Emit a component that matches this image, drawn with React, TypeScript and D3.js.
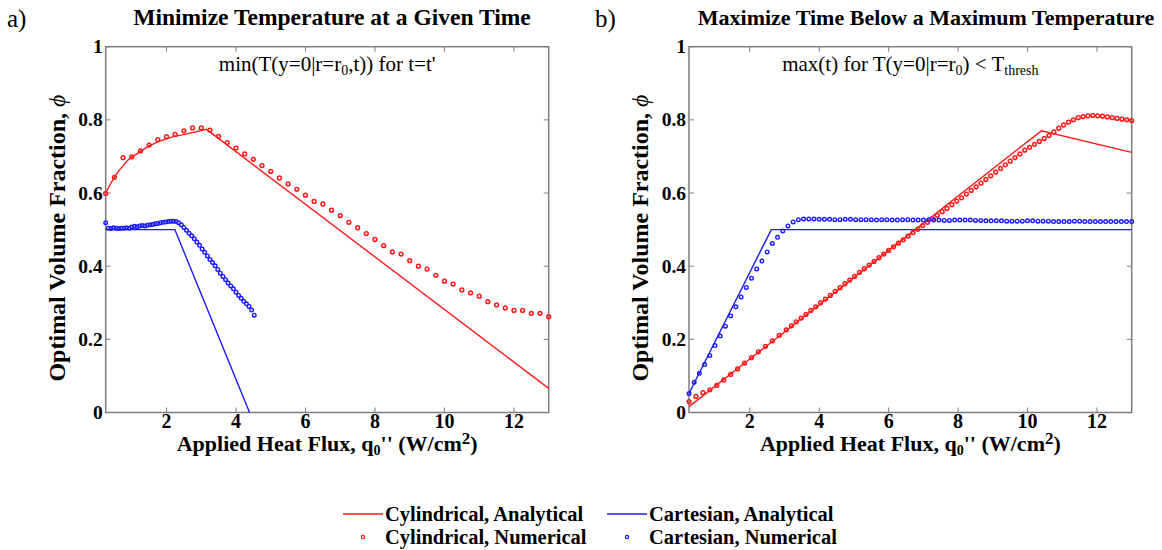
import React from "react";
import * as d3 from "d3";

// ---------- DATA ----------
const xTicks = [2, 4, 6, 8, 10, 12];
const yTicks = [0, 0.2, 0.4, 0.6, 0.8, 1];
const xDomain: [number, number] = [0.25, 13];

// Panel a) Cylindrical analytical
const aRedLineX = [0.25, 0.37, 0.5, 0.62, 0.75, 0.87, 1.0, 1.25, 1.5, 1.8, 2.2, 2.65, 3.15, 13];
const aRedLineY = [0.6, 0.622, 0.643, 0.66, 0.675, 0.688, 0.698, 0.714, 0.729, 0.742, 0.754, 0.763, 0.774, 0.066];
// Panel a) Cartesian analytical
const aBlueLineX = [0.25, 2.24, 4.39];
const aBlueLineY = [0.5, 0.5, 0.0];
// Panel a) Cylindrical numerical
const aRedDotX = [0.25, 0.5, 0.75, 1.0, 1.25, 1.5, 1.75, 2.0, 2.25, 2.5, 2.75, 3.0, 3.25, 3.5, 3.75, 4.0, 4.25, 4.5, 4.75, 5.0, 5.25, 5.5, 5.75, 6.0, 6.25, 6.5, 6.75, 7.0, 7.25, 7.5, 7.75, 8.0, 8.25, 8.5, 8.75, 9.0, 9.25, 9.5, 9.75, 10.0, 10.25, 10.5, 10.75, 11.0, 11.25, 11.5, 11.75, 12.0, 12.25, 12.5, 12.75, 13.0];
const aRedDotY = [0.599, 0.643, 0.697, 0.699, 0.715, 0.731, 0.746, 0.754, 0.76, 0.77, 0.778, 0.778, 0.772, 0.755, 0.738, 0.723, 0.707, 0.692, 0.675, 0.659, 0.641, 0.625, 0.61, 0.594, 0.577, 0.57, 0.553, 0.538, 0.52, 0.505, 0.489, 0.473, 0.456, 0.439, 0.433, 0.415, 0.4, 0.392, 0.375, 0.359, 0.351, 0.335, 0.327, 0.318, 0.303, 0.294, 0.286, 0.279, 0.279, 0.271, 0.271, 0.262];
// Panel a) Cartesian numerical
const aBlueDotX = [0.25, 0.325, 0.4, 0.475, 0.55, 0.625, 0.7, 0.775, 0.85, 0.925, 1.0, 1.075, 1.15, 1.225, 1.3, 1.375, 1.45, 1.525, 1.6, 1.675, 1.75, 1.825, 1.9, 1.975, 2.05, 2.125, 2.2, 2.275, 2.35, 2.425, 2.5, 2.575, 2.65, 2.725, 2.8, 2.875, 2.95, 3.025, 3.1, 3.175, 3.25, 3.325, 3.4, 3.475, 3.55, 3.625, 3.7, 3.775, 3.85, 3.925, 4.0, 4.075, 4.15, 4.225, 4.3, 4.375, 4.45, 4.525];
const aBlueDotY = [0.519, 0.504, 0.503, 0.505, 0.504, 0.503, 0.504, 0.504, 0.505, 0.504, 0.507, 0.509, 0.508, 0.51, 0.511, 0.51, 0.512, 0.513, 0.514, 0.516, 0.517, 0.519, 0.52, 0.521, 0.522, 0.523, 0.523, 0.522, 0.519, 0.513, 0.506, 0.498, 0.49, 0.483, 0.475, 0.466, 0.457, 0.447, 0.438, 0.428, 0.418, 0.41, 0.401, 0.391, 0.381, 0.372, 0.363, 0.354, 0.346, 0.338, 0.329, 0.32, 0.312, 0.304, 0.297, 0.29, 0.28, 0.266];

// Panel b) analytical
const bRedLineX = [0.25, 10.4, 13];
const bRedLineY = [0.016, 0.77, 0.711];
const bBlueLineX = [0.25, 2.62, 13];
const bBlueLineY = [0.052, 0.5, 0.5];
// Panel b) Cylindrical numerical
const bRedDotX = [0.25, 0.45, 0.65, 0.85, 1.05, 1.25, 1.45, 1.65, 1.85, 2.05, 2.25, 2.45, 2.65, 2.85, 3.05,
  3.2, 3.34, 3.48, 3.62, 3.76, 3.9, 4.04, 4.18, 4.32, 4.46, 4.6, 4.74, 4.88, 5.02, 5.16, 5.3, 5.44, 5.58, 5.72, 5.86,
  6.0, 6.14, 6.28, 6.42, 6.56, 6.7, 6.84, 6.98, 7.12, 7.26, 7.4, 7.54, 7.68, 7.82, 7.96, 8.1, 8.24, 8.38, 8.52, 8.66,
  8.8, 8.94, 9.08, 9.22, 9.36, 9.5, 9.64, 9.78, 9.92, 10.06, 10.2, 10.34, 10.48, 10.62, 10.76, 10.9, 11.04, 11.18,
  11.32, 11.46, 11.6, 11.74, 11.88, 12.02, 12.16, 12.3, 12.44, 12.58, 12.72, 12.86, 13.0];
const bRedDotY = [0.03, 0.044, 0.054, 0.062, 0.074, 0.089, 0.104, 0.119, 0.135, 0.15, 0.166, 0.181, 0.196, 0.211, 0.226,
  0.237, 0.248, 0.258, 0.268, 0.279, 0.289, 0.3, 0.31, 0.32, 0.331, 0.341, 0.352, 0.362, 0.372, 0.383, 0.393, 0.403, 0.413, 0.423, 0.433,
  0.443, 0.453, 0.463, 0.472, 0.482, 0.492, 0.501, 0.511, 0.52, 0.53, 0.539, 0.549, 0.558, 0.568, 0.578, 0.587, 0.597, 0.607, 0.617, 0.627,
  0.637, 0.647, 0.657, 0.667, 0.677, 0.687, 0.697, 0.707, 0.717, 0.725, 0.733, 0.741, 0.749, 0.757, 0.767, 0.777, 0.786, 0.794,
  0.8, 0.806, 0.809, 0.811, 0.812, 0.811, 0.81, 0.808, 0.806, 0.804, 0.802, 0.8, 0.798];
// Panel b) Cartesian numerical
const bBlueDotX = [0.25, 0.4, 0.55, 0.7, 0.85, 1.0, 1.15, 1.3, 1.45, 1.6, 1.75, 1.9, 2.05, 2.2, 2.35, 2.5, 2.65, 2.8, 2.95, 3.1, 3.25, 3.4, 3.55,
  3.7, 3.85, 4.0, 4.15, 4.3, 4.45, 4.6, 4.75, 4.9, 5.05, 5.2, 5.35, 5.5, 5.65, 5.8, 5.95, 6.1, 6.25, 6.4, 6.55,
  6.7, 6.85, 7.0, 7.15, 7.3, 7.45, 7.6, 7.75, 7.9, 8.05, 8.2, 8.35, 8.5, 8.65, 8.8, 8.95, 9.1, 9.25, 9.4, 9.55,
  9.7, 9.85, 10.0, 10.15, 10.3, 10.45, 10.6, 10.75, 10.9, 11.05, 11.2, 11.35, 11.5, 11.65, 11.8, 11.95, 12.1, 12.25, 12.4, 12.55,
  12.7, 12.85, 13.0];
const bBlueDotY = [0.052, 0.083, 0.107, 0.131, 0.156, 0.183, 0.209, 0.236, 0.264, 0.289, 0.316, 0.342, 0.367, 0.392, 0.414, 0.439, 0.462, 0.479, 0.496, 0.51, 0.521, 0.527, 0.529,
  0.529, 0.529, 0.528, 0.528, 0.528, 0.527, 0.527, 0.528, 0.528, 0.527,
  0.527, 0.527, 0.527, 0.526, 0.527, 0.527, 0.526, 0.526, 0.527, 0.527,
  0.526, 0.526, 0.526, 0.527, 0.526, 0.526, 0.525, 0.525, 0.526, 0.526,
  0.526, 0.526, 0.525, 0.525, 0.524, 0.524, 0.524, 0.524, 0.523, 0.523,
  0.523, 0.523, 0.524, 0.524, 0.523, 0.523, 0.523, 0.522, 0.522, 0.522,
  0.522, 0.523, 0.523, 0.522, 0.522, 0.522, 0.522, 0.522, 0.522, 0.522,
  0.522, 0.522, 0.522];

const legendLabels = ["Cylindrical, Analytical", "Cartesian, Analytical", "Cylindrical, Numerical", "Cartesian, Numerical"];

// ---------- STYLE ----------
const RED = "#ff1a1a";
const BLUE = "#1a1aff";
const AXIS = "#7d7d7d";
const FONT = "'Liberation Serif', 'Times New Roman', serif";
const TOP = 46.7;
const BOTTOM = 412.5;

const zip = (xs: number[], ys: number[]) => xs.map((x, i) => [x, ys[i]] as [number, number]);

type PanelProps = {
  x0: number;
  x1: number;
  letter: string;
  letterX: number;
  title: string;
  titleSize: number;
  titleX: number;
  annot: React.ReactNode;
  redLine: [number, number][];
  blueLine: [number, number][];
  redDots: [number, number][];
  blueDots: [number, number][];
};

function Panel(p: PanelProps) {
  const xs = d3.scaleLinear().domain(xDomain).range([p.x0, p.x1]);
  const ys = d3.scaleLinear().domain([0, 1]).range([BOTTOM, TOP]);
  const line = d3.line<[number, number]>().x((d) => xs(d[0])).y((d) => ys(d[1]));
  const cx = (p.x0 + p.x1) / 2;
  const tl = 5;
  return (
    <g>
      <text x={p.letterX} y={27} fontFamily={FONT} fontSize={25}>{p.letter}</text>
      <text x={p.titleX} y={25} textAnchor="middle" fontFamily={FONT} fontSize={p.titleSize} fontWeight="bold">{p.title}</text>
      <rect x={p.x0} y={TOP} width={p.x1 - p.x0} height={BOTTOM - TOP} fill="#fff" stroke={AXIS} strokeWidth={1.5} />
      {yTicks.map((t) => (
        <g key={"y" + t}>
          <line x1={p.x0} x2={p.x0 + tl} y1={ys(t)} y2={ys(t)} stroke={AXIS} strokeWidth={1} />
          <line x1={p.x1} x2={p.x1 - tl} y1={ys(t)} y2={ys(t)} stroke={AXIS} strokeWidth={1} />
          <text x={p.x0 - 3} y={ys(t) + 6.5} textAnchor="end" fontFamily={FONT} fontSize={19.5} fontWeight="bold">{d3.format("~g")(t)}</text>
        </g>
      ))}
      {xTicks.map((t) => (
        <g key={"x" + t}>
          <line x1={xs(t)} x2={xs(t)} y1={BOTTOM} y2={BOTTOM - tl} stroke={AXIS} strokeWidth={1} />
          <line x1={xs(t)} x2={xs(t)} y1={TOP} y2={TOP + tl} stroke={AXIS} strokeWidth={1} />
          <text x={xs(t)} y={427.5} textAnchor="middle" fontFamily={FONT} fontSize={20} fontWeight="bold">{t}</text>
        </g>
      ))}
      <text x={cx} y={71} textAnchor="middle" fontFamily={FONT} fontSize={21}>{p.annot}</text>
      <path d={line(p.redLine) || ""} fill="none" stroke={RED} strokeWidth={1.4} />
      <path d={line(p.blueLine) || ""} fill="none" stroke={BLUE} strokeWidth={1.4} />
      {p.redDots.map((d, i) => (
        <circle key={"r" + i} cx={xs(d[0])} cy={ys(d[1])} r={1.9} fill="none" stroke={RED} strokeWidth={1.5} />
      ))}
      {p.blueDots.map((d, i) => (
        <circle key={"b" + i} cx={xs(d[0])} cy={ys(d[1])} r={1.8} fill="none" stroke={BLUE} strokeWidth={1.4} />
      ))}
      <text transform={`translate(${p.x0 - 41},238) rotate(-90)`} textAnchor="middle" fontFamily={FONT} fontSize={24} fontWeight="bold">
        Optimal Volume Fraction, <tspan fontStyle="italic" fontWeight="normal">ϕ</tspan>
      </text>
      <text x={cx} y={451} textAnchor="middle" fontFamily={FONT} fontSize={22} fontWeight="bold">
        Applied Heat Flux, q<tspan fontSize={14} dy={4}>0</tspan><tspan dy={-4}>'' (W/cm</tspan><tspan fontSize={17} dy={-7}>2</tspan><tspan dy={7}>)</tspan>
      </text>
    </g>
  );
}

function Legend() {
  const cols = [343, 607];
  const rows = [514, 537];
  const colors = [RED, BLUE, RED, BLUE];
  return (
    <g>
      {legendLabels.map((label, i) => {
        const x = cols[i % 2];
        const y = rows[Math.floor(i / 2)];
        const isLine = i < 2;
        return (
          <g key={label}>
            {isLine ? (
              <line x1={x} x2={x + 40} y1={y} y2={y} stroke={colors[i]} strokeWidth={1.5} />
            ) : (
              <circle cx={x + 20} cy={y} r={1.6} fill="none" stroke={colors[i]} strokeWidth={1.3} />
            )}
            <text x={x + 42} y={y + 7} fontFamily={FONT} fontSize={20.5} fontWeight="bold">{label}</text>
          </g>
        );
      })}
    </g>
  );
}

export default function App() {
  return (
    <svg width={1162} height={550} style={{ position: "absolute", left: 0, top: 0, background: "#fff" }}>
      <Panel
        x0={105.7}
        x1={548.7}
        letter="a)"
        letterX={7}
        title="Minimize Temperature at a Given Time"
        titleSize={23.5}
        titleX={332}
        annot={<>min(T(y=0|r=r<tspan fontSize={14} dy={4}>0</tspan><tspan dy={-4}>,t)) for t=t'</tspan></>}
        redLine={zip(aRedLineX, aRedLineY)}
        blueLine={zip(aBlueLineX, aBlueLineY)}
        redDots={zip(aRedDotX, aRedDotY)}
        blueDots={zip(aBlueDotX, aBlueDotY)}
      />
      <Panel
        x0={689}
        x1={1131.7}
        letter="b)"
        letterX={595}
        title="Maximize Time Below a Maximum Temperature"
        titleSize={22}
        titleX={926}
        annot={<>max(t) for T(y=0|r=r<tspan fontSize={14} dy={4}>0</tspan><tspan dy={-4}>) &lt; T</tspan><tspan fontSize={14} dy={4}>thresh</tspan></>}
        redLine={zip(bRedLineX, bRedLineY)}
        blueLine={zip(bBlueLineX, bBlueLineY)}
        redDots={zip(bRedDotX, bRedDotY)}
        blueDots={zip(bBlueDotX, bBlueDotY)}
      />
      <Legend />
    </svg>
  );
}
